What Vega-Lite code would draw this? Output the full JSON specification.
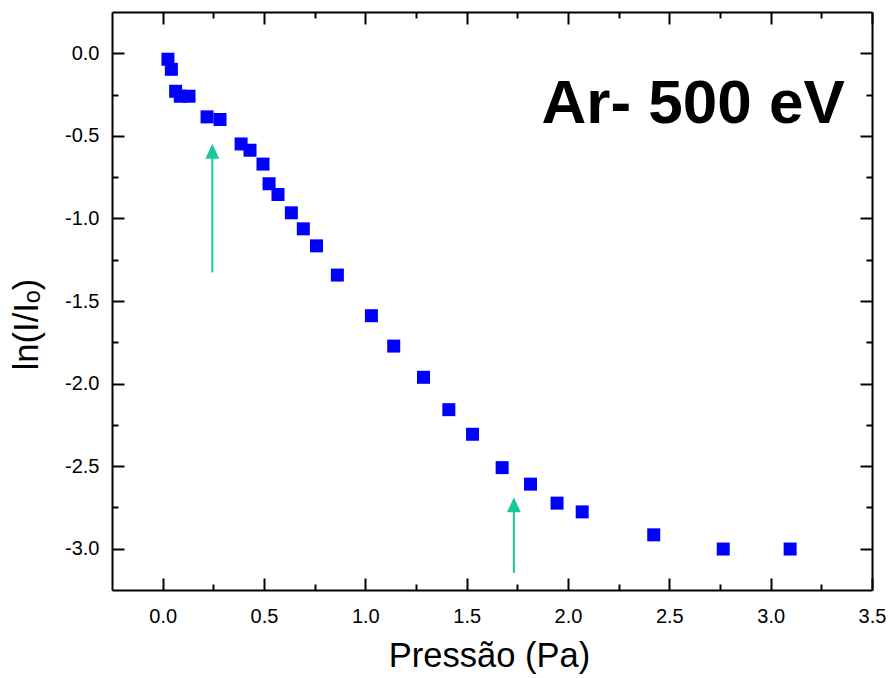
{
  "$schema": "https://vega.github.io/schema/vega-lite/v6.json",
  "width": 760,
  "height": 578,
  "autosize": {"type": "none"},
  "padding": {"left": 112, "top": 12, "right": 18, "bottom": 88},
  "background": "white",
  "config": {
    "view": {"stroke": null},
    "font": "Liberation Sans",
    "axis": {
      "grid": false,
      "labelFont": "Liberation Sans",
      "titleFont": "Liberation Sans",
      "labelColor": "black",
      "titleColor": "black",
      "tickColor": "black",
      "domainColor": "black",
      "tickWidth": 2,
      "domainWidth": 2,
      "tickOpacity": 1,
      "domainOpacity": 1,
      "labelFontSize": 20,
      "titleFontSize": 34.5,
      "titleFontWeight": "normal",
      "labelOverlap": false,
      "labelFlush": false
    }
  },
  "datasets": {
    "pts": [
      {"p": 0.026, "v": -0.036},
      {"p": 0.043, "v": -0.097},
      {"p": 0.064, "v": -0.23},
      {"p": 0.087, "v": -0.26},
      {"p": 0.13, "v": -0.26},
      {"p": 0.219, "v": -0.385},
      {"p": 0.283, "v": -0.401},
      {"p": 0.387, "v": -0.549},
      {"p": 0.431, "v": -0.587},
      {"p": 0.495, "v": -0.671},
      {"p": 0.525, "v": -0.79},
      {"p": 0.569, "v": -0.855},
      {"p": 0.635, "v": -0.966},
      {"p": 0.694, "v": -1.063},
      {"p": 0.759, "v": -1.166},
      {"p": 0.862, "v": -1.343},
      {"p": 1.03, "v": -1.589},
      {"p": 1.14, "v": -1.773},
      {"p": 1.287, "v": -1.962},
      {"p": 1.412, "v": -2.158},
      {"p": 1.529, "v": -2.307},
      {"p": 1.675, "v": -2.509},
      {"p": 1.815, "v": -2.609},
      {"p": 1.946, "v": -2.724},
      {"p": 2.07, "v": -2.777},
      {"p": 2.423, "v": -2.916},
      {"p": 2.766, "v": -3.002},
      {"p": 3.096, "v": -3.002}
    ],
    "arrows": [
      {"x": 0.245, "y0": -1.327, "y1": -0.6, "head": -0.593},
      {"x": 1.733, "y0": -3.146, "y1": -2.74, "head": -2.734}
    ],
    "label": [
      {"text": "Ar- 500 eV", "x": 3.366, "y": -0.4235}
    ]
  },
  "layer": [
    {
      "data": {"name": "pts"},
      "mark": {"type": "point", "shape": "square", "filled": true, "color": "#0000FF", "opacity": 1, "size": 169},
      "encoding": {
        "x": {
          "field": "p", "type": "quantitative",
          "scale": {"domain": [-0.25, 3.5], "nice": false, "zero": false},
          "axis": {
            "orient": "bottom",
            "values": [0, 0.5, 1, 1.5, 2, 2.5, 3, 3.5],
            "tickSize": -12,
            "tickWidth": 2,
            "domainWidth": 2,
            "labelPadding": 44,
            "labelBaseline": "alphabetic",
            "labelExpr": "replace(format(datum.value, '.1f'), '\u2212', '-')",
            "title": "Pressão (Pa)",
            "titleX": 377,
            "titleY": 76,
            "titleBaseline": "alphabetic",
            "titleAlign": "center"
          }
        },
        "y": {
          "field": "v", "type": "quantitative",
          "scale": {"domain": [-3.25, 0.25], "nice": false, "zero": false},
          "axis": {
            "orient": "left",
            "values": [-3, -2.5, -2, -1.5, -1, -0.5, 0],
            "tickSize": -12,
            "tickWidth": 2,
            "domainWidth": 2,
            "labelPadding": 25,
            "labelExpr": "replace(format(datum.value, '.1f'), '\u2212', '-')",
            "title": "ln(I/Iₒ)",
            "titleAngle": -90,
            "titleX": -75,
            "titleY": 312,
            "titleBaseline": "alphabetic",
            "titleAlign": "center"
          }
        }
      }
    },
    {
      "data": {"name": "label"},
      "mark": {"type": "text", "align": "right", "baseline": "alphabetic", "fontSize": 62, "fontWeight": "bold", "font": "Liberation Sans", "color": "black"},
      "encoding": {
        "text": {"field": "text"},
        "x": {
          "field": "x", "type": "quantitative",
          "scale": {"domain": [-0.25, 3.5], "nice": false, "zero": false},
          "axis": {"orient": "top", "values": [0, 0.5, 1, 1.5, 2, 2.5, 3, 3.5], "tickSize": -12, "tickWidth": 2, "domainWidth": 2, "labels": false, "title": null}
        },
        "y": {
          "field": "y", "type": "quantitative",
          "scale": {"domain": [-3.25, 0.25], "nice": false, "zero": false},
          "axis": {"orient": "right", "values": [-3, -2.5, -2, -1.5, -1, -0.5, 0], "tickSize": -12, "tickWidth": 2, "domainWidth": 2, "labels": false, "title": null}
        }
      }
    },
    {
      "data": {"name": "arrows"},
      "mark": {"type": "rule", "color": "#19c99b", "strokeWidth": 2},
      "encoding": {
        "x": {
          "field": "x", "type": "quantitative",
          "scale": {"domain": [-0.25, 3.5], "nice": false, "zero": false},
          "axis": {"orient": "bottom", "values": [0.25, 0.75, 1.25, 1.75, 2.25, 2.75, 3.25], "tickSize": -6, "tickWidth": 2, "labels": false, "domain": false, "title": null}
        },
        "y": {
          "field": "y0", "type": "quantitative",
          "scale": {"domain": [-3.25, 0.25], "nice": false, "zero": false},
          "axis": {"orient": "left", "values": [-2.75, -2.25, -1.75, -1.25, -0.75, -0.25], "tickSize": -6, "tickWidth": 2, "labels": false, "domain": false, "title": null}
        },
        "y2": {"field": "y1"}
      }
    },
    {
      "data": {"name": "arrows"},
      "mark": {"type": "point", "shape": "M0,-1L-0.93,1L0.93,1Z", "filled": true, "color": "#19c99b", "opacity": 1, "size": 225},
      "encoding": {
        "x": {
          "field": "x", "type": "quantitative",
          "scale": {"domain": [-0.25, 3.5], "nice": false, "zero": false},
          "axis": {"orient": "top", "values": [0.25, 0.75, 1.25, 1.75, 2.25, 2.75, 3.25], "tickSize": -6, "tickWidth": 2, "labels": false, "domain": false, "title": null}
        },
        "y": {
          "field": "head", "type": "quantitative",
          "scale": {"domain": [-3.25, 0.25], "nice": false, "zero": false},
          "axis": {"orient": "right", "values": [-2.75, -2.25, -1.75, -1.25, -0.75, -0.25], "tickSize": -6, "tickWidth": 2, "labels": false, "domain": false, "title": null}
        }
      }
    }
  ],
  "resolve": {"axis": {"x": "independent", "y": "independent"}}
}
